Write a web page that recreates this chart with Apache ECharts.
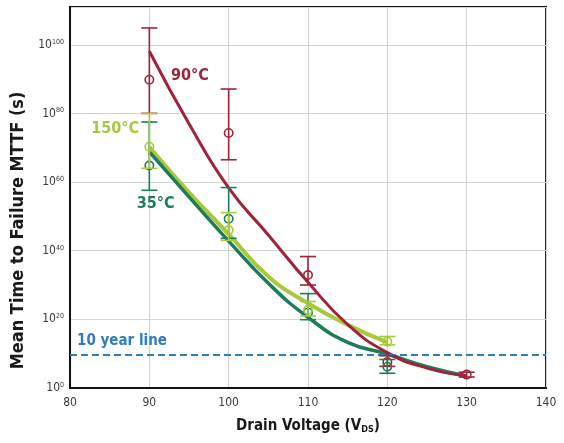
<!DOCTYPE html>
<html>
<head>
<meta charset="utf-8">
<script src="https://cdn.jsdelivr.net/npm/echarts@6/dist/echarts.min.js"></script>
<style>
  html, body { margin: 0; padding: 0; background: #fff; }
  #chart { width: 564px; height: 443px; }
</style>
</head>
<body>
<div id="chart"></div>
<script>
// MTTF is plotted as log10(seconds), the axis labels print 10^n
var fitVolts = [90, 95, 100, 105, 110, 115, 120, 125, 130];
var fit90 = [98.1, 77.0, 58.3, 44.6, 30.8, 18.5, 10.3, 5.8, 3.5];
var fit35 = [68.8, 55.7, 42.8, 30.5, 20.6, 13.3, 9.9, 6.2, 3.5];
var fitVolts150 = [90, 95, 100, 105, 110, 115, 120];
var fit150 = [70.2, 57.0, 44.8, 32.5, 24.7, 18.4, 13.3];

// measured points: voltage, mean, low, high (log10 s)
var volts90 = [90, 100, 110, 120, 130];
var mean90 = [89.8, 74.3, 32.9, 7.6, 3.9];
var low90 = [80.0, 66.5, 30.0, 6.3, 3.2];
var high90 = [104.9, 87.1, 38.3, 9.4, 4.6];

var volts150 = [90, 100, 110, 120];
var mean150 = [70.3, 46.0, 22.7, 13.5];
var low150 = [64.0, 43.0, 21.0, 12.6];
var high150 = [80.0, 51.1, 25.2, 15.0];

var volts35 = [90, 100, 110, 120];
var mean35 = [64.8, 49.3, 22.0, 6.2];
var low35 = [57.6, 43.6, 19.9, 4.3];
var high35 = [77.5, 58.4, 27.5, 8.3];

var expTicks = [0, 20, 40, 60, 80, 100];
var tenYearLine = 9.6;

var RED = '#a0233a';
var LIGHT = '#a9c93c';
var TEAL = '#1e7d58';
var BLUE = '#2f7dbd';
var FONT = "'DejaVu Sans Condensed', 'Liberation Sans Narrow', sans-serif";

function pairs(xs, ys) {
  return xs.map(function (x, i) { return [x, ys[i]]; });
}
function bars(xs, lo, hi, mid) {
  return xs.map(function (x, i) { return [x, lo[i], hi[i], mid[i]]; });
}

function errorBar(color) {
  return function (params, api) {
    var x = api.value(0);
    var lo = api.coord([x, api.value(1)]);
    var hi = api.coord([x, api.value(2)]);
    var mid = api.coord([x, api.value(3)]);
    var w = 8;
    var st = function () { return { stroke: color, lineWidth: 1.6, fill: null }; };
    return {
      type: 'group',
      children: [
        { type: 'line', shape: { x1: hi[0], y1: hi[1], x2: lo[0], y2: lo[1] }, style: st() },
        { type: 'line', shape: { x1: hi[0] - w, y1: hi[1], x2: hi[0] + w, y2: hi[1] }, style: st() },
        { type: 'line', shape: { x1: lo[0] - w, y1: lo[1], x2: lo[0] + w, y2: lo[1] }, style: st() },
        { type: 'circle', shape: { cx: mid[0], cy: mid[1], r: 4.2 }, style: st() }
      ]
    };
  };
}

function tempLabel(text, color, x, y, size) {
  return {
    name: text,
    coord: [x, y],
    symbolSize: 0,
    label: {
      show: true, position: 'inside', formatter: '{b}',
      color: color, fontFamily: FONT, fontWeight: 'bold', fontSize: size
    }
  };
}

var myChart = echarts.init(document.getElementById('chart'));

var option = {
  backgroundColor: '#fff',
  animation: false,
  grid: {
    left: 70, right: 18, top: 7, bottom: 55,
    show: true, borderColor: '#111', borderWidth: 2
  },
  xAxis: {
    type: 'value',
    min: 80, max: 140, interval: 10,
    name: '{a|Drain Voltage (V}{b|DS}{a|)}',
    nameLocation: 'middle',
    nameGap: 31,
    nameTextStyle: {
      rich: {
        a: { fontFamily: FONT, fontWeight: 'bold', fontSize: 15, color: '#1a1a1a' },
        b: { fontFamily: FONT, fontWeight: 'bold', fontSize: 9, color: '#1a1a1a', padding: [6, 0, 0, 0] }
      }
    },
    axisLine: { lineStyle: { color: '#111', width: 2 } },
    axisTick: { show: false },
    axisLabel: { margin: 9, fontFamily: FONT, fontSize: 12, color: '#3a3a3a' },
    splitLine: { lineStyle: { color: '#d4d4d4', width: 1.2 } }
  },
  yAxis: {
    type: 'value',
    min: 0, max: 111, interval: 20,
    name: 'Mean Time to Failure MTTF (s)',
    nameLocation: 'middle',
    nameGap: 38,
    nameTextStyle: {
      fontFamily: FONT, fontWeight: 'bold', fontSize: 18, color: '#1a1a1a',
      padding: [0, 66, 0, 0]
    },
    axisLine: { lineStyle: { color: '#111', width: 2 } },
    axisTick: { show: false },
    axisLabel: {
      margin: 6,
      showMaxLabel: false,
      formatter: function (v) {
        return expTicks.indexOf(v) >= 0 ? '{b|10}{s|' + v + '}' : '';
      },
      rich: {
        b: { fontFamily: FONT, fontSize: 12, color: '#3a3a3a' },
        s: { fontFamily: FONT, fontSize: 7, color: '#3a3a3a', verticalAlign: 'top', padding: [0, 0, 6, 0] }
      }
    },
    splitLine: { lineStyle: { color: '#d4d4d4', width: 1.2 } }
  },
  series: [
    {
      name: '150°C fit', type: 'line', smooth: 0.5, showSymbol: false,
      data: pairs(fitVolts150, fit150),
      lineStyle: { color: LIGHT, width: 4 },
      markPoint: { data: [tempLabel('150°C', LIGHT, 85.7, 75.5, 16)] },
      z: 2
    },
    {
      name: '35°C fit', type: 'line', smooth: 0.5, showSymbol: false,
      data: pairs(fitVolts, fit35),
      lineStyle: { color: TEAL, width: 3.5 },
      markPoint: { data: [tempLabel('35°C', TEAL, 90.8, 53.6, 16)] },
      markLine: {
        silent: true, symbol: 'none',
        lineStyle: { color: BLUE, width: 2, type: [7, 4] },
        label: {
          show: true, position: 'insideStartTop', formatter: '10 year line',
          color: BLUE, fontFamily: FONT, fontWeight: 'bold', fontSize: 15, distance: [7, 6]
        },
        data: [{ yAxis: tenYearLine }]
      },
      z: 3
    },
    {
      name: '90°C fit', type: 'line', smooth: 0.5, showSymbol: false,
      data: pairs(fitVolts, fit90),
      lineStyle: { color: RED, width: 3 },
      markPoint: { data: [tempLabel('90°C', RED, 95.1, 90.8, 16)] },
      z: 4
    },
    {
      name: '90°C', type: 'custom', renderItem: errorBar(RED),
      data: bars(volts90, low90, high90, mean90), encode: { x: 0, y: [1, 2, 3] }, z: 5
    },
    {
      name: '35°C', type: 'custom', renderItem: errorBar(TEAL),
      data: bars(volts35, low35, high35, mean35), encode: { x: 0, y: [1, 2, 3] }, z: 6
    },
    {
      name: '150°C', type: 'custom', renderItem: errorBar(LIGHT),
      data: bars(volts150, low150, high150, mean150), encode: { x: 0, y: [1, 2, 3] }, z: 7
    }
  ]
};

myChart.setOption(option);
</script>
</body>
</html>
